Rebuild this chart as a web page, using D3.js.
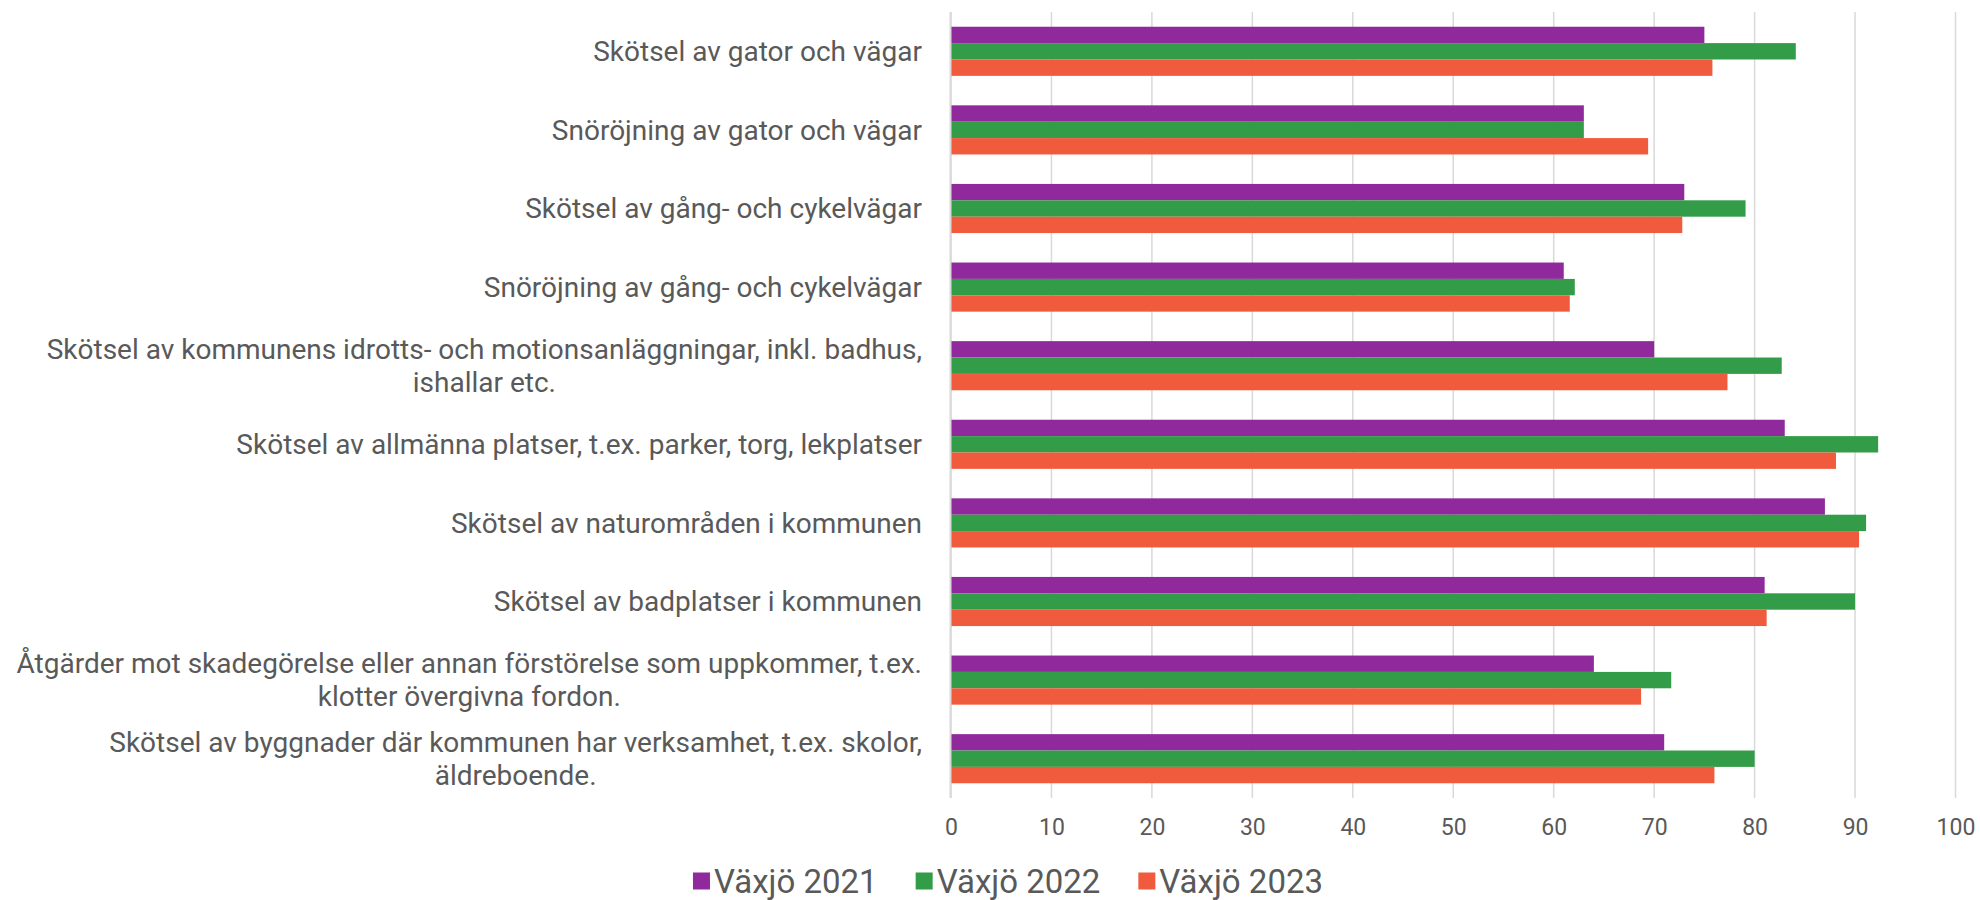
<!DOCTYPE html>
<html>
<head>
<meta charset="utf-8">
<script src="https://cdn.jsdelivr.net/npm/d3@7"></script>
<style>
  html, body { margin: 0; padding: 0; background: #fff; }
  svg { display: block; }
</style>
</head>
<body>
<svg id="chart" width="1980" height="900"></svg>
<script>
const categories = [
  ["Skötsel av gator och vägar"],
  ["Snöröjning av gator och vägar"],
  ["Skötsel av gång- och cykelvägar"],
  ["Snöröjning av gång- och cykelvägar"],
  ["Skötsel av kommunens idrotts- och motionsanläggningar, inkl. badhus,", "ishallar etc."],
  ["Skötsel av allmänna platser, t.ex. parker, torg, lekplatser"],
  ["Skötsel av naturområden i kommunen"],
  ["Skötsel av badplatser i kommunen"],
  ["Åtgärder mot skadegörelse eller annan förstörelse som uppkommer, t.ex.", "klotter övergivna fordon."],
  ["Skötsel av byggnader där kommunen har verksamhet, t.ex. skolor,", "äldreboende."]
];
const seriesNames = ["Växjö 2021", "Växjö 2022", "Växjö 2023"];
const values2021 = [75, 63, 73, 61, 70, 83, 87, 81, 64, 71];
const values2022 = [84.1, 63, 79.1, 62.1, 82.7, 92.3, 91.1, 90, 71.7, 80];
const values2023 = [75.8, 69.4, 72.8, 61.6, 77.3, 88.1, 90.4, 81.2, 68.7, 76];
const tickValues = [0, 10, 20, 30, 40, 50, 60, 70, 80, 90, 100];
const colors = ["#8F299C", "#339C48", "#F05B3D"];

const seriesValues = [values2021, values2022, values2023];
const svg = d3.select("#chart");
const textColor = "#595959";
const font = "Roboto, 'Noto Sans', sans-serif";

const x = d3.scaleLinear().domain([0, 100]).range([951, 1955.5]);
const y = d3.scaleBand().domain(d3.range(categories.length)).range([12, 798]).paddingInner(0.375).paddingOuter(0.1875);
const ySub = d3.scaleBand().domain(d3.range(seriesNames.length)).range([0, y.bandwidth()]);

// gridlines
svg.append("g").selectAll("line").data(tickValues).join("line")
  .attr("x1", d => x(d)).attr("x2", d => x(d))
  .attr("y1", 12).attr("y2", 798)
  .attr("stroke", "#D9D9D9").attr("stroke-width", 1.5);

// bars
const groups = svg.append("g").selectAll("g").data(categories).join("g")
  .attr("transform", (d, i) => `translate(0,${y(i)})`);
groups.selectAll("rect").data((d, i) => seriesValues.map((s, k) => ({k, v: s[i]}))).join("rect")
  .attr("x", x(0))
  .attr("y", d => ySub(d.k))
  .attr("width", d => x(d.v) - x(0))
  .attr("height", ySub.bandwidth())
  .attr("fill", d => colors[d.k]);

// axis line at zero
svg.append("line").attr("x1", x(0) - 0.5).attr("x2", x(0) - 0.5).attr("y1", 12).attr("y2", 798)
  .attr("stroke", "#D9D9D9").attr("stroke-width", 2);

// x axis tick labels
const xAxis = d3.axisBottom(x).tickValues(tickValues).tickSize(0).tickPadding(0).tickFormat(d3.format("d"));
const gx = svg.append("g").attr("transform", "translate(0,819)").call(xAxis);
gx.select(".domain").remove();
gx.selectAll("text").attr("fill", textColor).attr("font-family", font).attr("font-size", 23).attr("dy", "0.71em");

// category labels
const labelRight = 922;
const lineH = 33;
categories.forEach((lines, i) => {
  const cy = y(i) + y.bandwidth() / 2;
  const g = svg.append("g");
  const texts = lines.map((t, j) => g.append("text")
    .attr("font-family", font).attr("font-size", 28).attr("fill", textColor)
    .attr("y", cy + (j - (lines.length - 1) / 2) * lineH)
    .attr("dy", "0.35em")
    .text(t));
  if (lines.length === 1) {
    texts[0].attr("x", labelRight).attr("text-anchor", "end");
  } else {
    const w = d3.max(texts, t => t.node().getComputedTextLength());
    texts.forEach(t => t.attr("x", labelRight - w / 2).attr("text-anchor", "middle"));
  }
});

// legend
const legend = svg.append("g");
let lx = 0;
seriesNames.forEach((name, k) => {
  legend.append("rect").attr("x", lx).attr("y", -8.5).attr("width", 17).attr("height", 17).attr("fill", colors[k]);
  const t = legend.append("text").attr("x", lx + 21).attr("y", 0).attr("dy", "0.35em")
    .attr("font-family", font).attr("font-size", 33).attr("fill", textColor).text(name);
  lx += 21 + t.node().getComputedTextLength() + 38;
});
const legendW = lx - 38;
legend.attr("transform", `translate(${1008 - legendW / 2},881)`);
</script>
</body>
</html>
